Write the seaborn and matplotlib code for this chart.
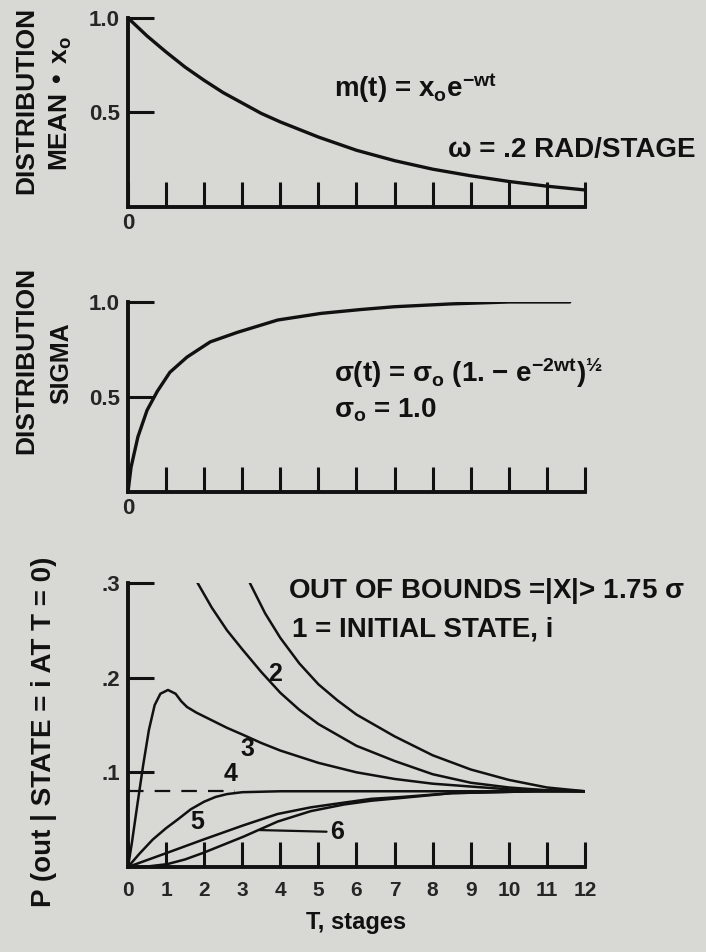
import numpy as np
import pandas as pd
import seaborn as sns
import matplotlib.pyplot as plt

# ---- values ----
# top panel: distribution mean / x0
mean_t = [0, 0.5, 1, 1.5, 2, 2.5, 3, 3.5, 4, 5, 6, 7, 8, 9, 10, 11, 12]
mean_val = [1.0, 0.905, 0.82, 0.74, 0.67, 0.605, 0.55, 0.495, 0.45, 0.37, 0.30,
            0.245, 0.20, 0.165, 0.135, 0.11, 0.09]

# middle panel: distribution sigma
sigma_t = [0, 0.08, 0.26, 0.5, 0.77, 1.1, 1.55, 2.16, 2.87, 3.93, 5.07, 6.1, 7.0,
           8.5, 10.0, 11.6]
sigma_val = [0, 0.13, 0.29, 0.43, 0.53, 0.63, 0.71, 0.79, 0.84, 0.905, 0.94, 0.96,
             0.975, 0.99, 1.0, 1.0]

# bottom panel: P(out | state = i at T = 0), one curve per initial state
state1_t = [3.2, 3.6, 4.0, 4.5, 5.0, 5.5, 6.0, 7.0, 8.0, 9.0, 10.0, 11.0, 12.0]
state1_p = [0.300, 0.268, 0.242, 0.215, 0.193, 0.176, 0.161, 0.138, 0.118, 0.103,
            0.092, 0.084, 0.080]
state2_t = [1.8, 2.2, 2.6, 3.0, 3.5, 4.0, 4.5, 5.0, 6.0, 7.0, 8.0, 9.0, 10.0, 11.0, 12.0]
state2_p = [0.302, 0.274, 0.250, 0.230, 0.206, 0.184, 0.166, 0.151, 0.128, 0.112,
            0.098, 0.089, 0.084, 0.081, 0.080]
state3_t = [0, 0.1, 0.25, 0.4, 0.55, 0.7, 0.85, 1.05, 1.25, 1.4, 1.55, 1.8, 2.2, 2.6,
            3.0, 3.5, 4.0, 5.0, 6.0, 7.0, 8.0, 9.0, 10.0, 11.0, 12.0]
state3_p = [0, 0.025, 0.067, 0.108, 0.145, 0.171, 0.183, 0.187, 0.183, 0.175, 0.169,
            0.163, 0.155, 0.147, 0.140, 0.131, 0.123, 0.110, 0.100, 0.093, 0.088,
            0.085, 0.082, 0.081, 0.080]
state4_t = [0, 0.3, 0.65, 1.0, 1.3, 1.65, 2.0, 2.3, 2.6, 3.0, 4.0, 6.0, 8.0, 10.0, 12.0]
state4_p = [0, 0.014, 0.029, 0.041, 0.050, 0.061, 0.069, 0.074, 0.077, 0.079, 0.080,
            0.080, 0.080, 0.080, 0.080]
state5_t = [0, 1.03, 1.98, 3.03, 3.93, 4.8, 5.67, 6.39, 7.2, 8.5, 10.7, 12.0]
state5_p = [0, 0.015, 0.029, 0.044, 0.056, 0.063, 0.068, 0.072, 0.074, 0.078, 0.080, 0.080]
state6_t = [0, 0.5, 1.03, 1.5, 1.98, 3.03, 3.48, 3.93, 4.8, 5.67, 6.39, 7.2, 8.5, 10.7, 12.0]
state6_p = [0, 0.0005, 0.003, 0.008, 0.015, 0.032, 0.040, 0.048, 0.059, 0.066, 0.070,
            0.073, 0.078, 0.080, 0.080]
equilibrium = 0.08

stage_ticks = list(range(13))

bg = '#d8d8d4'
ink = '#111111'

sns.set_theme(style='ticks')
plt.rcParams['font.family'] = ['Liberation Sans', 'DejaVu Sans']
plt.rcParams['font.weight'] = 'bold'
plt.rcParams['axes.labelweight'] = 'bold'
plt.rcParams['mathtext.default'] = 'regular'

fig = plt.figure(figsize=(7.06, 9.52), dpi=100)
fig.patch.set_facecolor(bg)

ax1 = fig.add_axes([0.1813, 0.7826, 0.6473, 0.1985])
ax2 = fig.add_axes([0.1813, 0.4832, 0.6473, 0.1996])
ax3 = fig.add_axes([0.1813, 0.0893, 0.6473, 0.2983])


def style_axis(ax, ymax, yticks, ylabels, xlabels, xpad):
    ax.set_facecolor(bg)
    ax.set_xlim(0, 12)
    ax.set_ylim(0, ymax)
    sns.despine(ax=ax)
    for side in ['left', 'bottom']:
        ax.spines[side].set_linewidth(2.8)
        ax.spines[side].set_color(ink)
    ax.set_xticks(stage_ticks)
    ax.set_xticklabels(xlabels)
    ax.set_yticks(yticks)
    ax.set_yticklabels(ylabels)
    ax.tick_params(axis='x', direction='in', length=18, width=2.2, color=ink,
                   labelsize=16, pad=xpad)
    ax.tick_params(axis='y', direction='in', length=19, width=2.2, color=ink,
                   labelsize=16, pad=6)
    ax.grid(False)


only_zero = ['0'] + [''] * 12
note = dict(fontsize=20, va='center', color=ink, clip_on=False)

# top panel
sns.lineplot(x=mean_t, y=mean_val, ax=ax1, color=ink, linewidth=2.4)
style_axis(ax1, 1.0, [0.5, 1.0], ['0.5', '1.0'], only_zero, 4)
ax1.text(5.4, 0.63, 'm(t) = x$_o$e$^{-wt}$', **note)
ax1.text(8.4, 0.30, '\u03c9 = .2 RAD/STAGE', **note)

# middle panel
sns.lineplot(x=sigma_t, y=sigma_val, ax=ax2, color=ink, linewidth=2.4)
style_axis(ax2, 1.0, [0.5, 1.0], ['0.5', '1.0'], only_zero, 4)
ax2.text(5.4, 0.63, '$\\sigma$(t) = $\\sigma_o$ (1. \u2212 e$^{-2wt})^{\u00bd}$', **note)
ax2.text(5.4, 0.43, '$\\sigma_o$ = 1.0', **note)

# bottom panel
curves = [(state1_t, state1_p), (state2_t, state2_p), (state3_t, state3_p),
          (state4_t, state4_p), (state5_t, state5_p), (state6_t, state6_p)]
for t, p in curves:
    sns.lineplot(x=t, y=p, ax=ax3, color=ink, linewidth=1.8)
ax3.plot([0, 2.8], [equilibrium, equilibrium], color=ink, linewidth=1.6,
         dashes=(7, 5))
style_axis(ax3, 0.3, [0.1, 0.2, 0.3], ['.1', '.2', '.3'],
           [str(v) for v in stage_ticks], 10)
ax3.tick_params(axis='x', labelsize=15)
ax3.set_xlabel('T, stages', fontsize=17, labelpad=8, color=ink)

ax3.text(4.2, 0.292, 'OUT OF BOUNDS =|X|> 1.75 $\\sigma$', **note)
ax3.text(4.3, 0.251, '1 = INITIAL STATE, i', **note)
for lab, tx, py in [('2', 3.85, 0.204), ('3', 3.14, 0.125), ('4', 2.69, 0.098),
                    ('5', 1.82, 0.048)]:
    ax3.text(tx, py, lab, fontsize=18, ha='center', va='center', color=ink)
ax3.annotate('6', xy=(3.45, 0.039), xytext=(5.3, 0.037), fontsize=18, va='center',
             color=ink, arrowprops=dict(arrowstyle='-', color=ink, linewidth=1.6,
                                        shrinkA=0, shrinkB=0))

# axis titles, written vertically at the far left
W, H = 706, 952
ylab_style = dict(rotation=90, ha='center', va='center', color=ink)
fig.text(26 / W, 1 - 100 / H, 'DISTRIBUTION', fontsize=19, **ylab_style)
fig.text(61 / W, 1 - 103 / H, 'MEAN \u2022 x$_o$', fontsize=19, **ylab_style)
fig.text(26 / W, 1 - 360 / H, 'DISTRIBUTION', fontsize=19, **ylab_style)
fig.text(61 / W, 1 - 363 / H, 'SIGMA', fontsize=18, **ylab_style)
fig.text(44 / W, 1 - 732 / H, 'P (out | STATE = i AT T = 0)', fontsize=20, **ylab_style)

fig.savefig('out.png', dpi=100, facecolor=bg)
